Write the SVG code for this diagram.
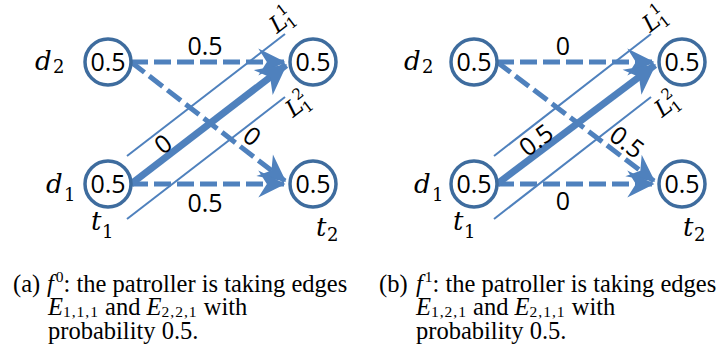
<svg xmlns="http://www.w3.org/2000/svg" width="722" height="358" viewBox="0 0 722 358">
<style>
.node{fill:#fff;stroke:#3E6C9E;stroke-width:3.5}
.nt{font-family:"Open Sans",sans-serif;font-size:25px;fill:#000;text-anchor:middle}
.el{font-family:"Open Sans",sans-serif;font-size:25px;fill:#000;text-anchor:middle}
.dash{stroke:#4F81BD;stroke-width:5;stroke-dasharray:17 6;fill:none}
.thick{stroke:#4F81BD;stroke-width:7;fill:none}
.thin{stroke:#4F81BD;stroke-width:2;fill:none}
.mi{font-family:"DejaVu Serif",serif;font-style:italic;font-size:26px;fill:#000}
.ms{font-family:"DejaVu Serif",serif;font-size:18px;fill:#000}
.li{font-family:"DejaVu Serif",serif;font-style:italic;font-size:23px;fill:#000}
.ls{font-family:"DejaVu Serif",serif;font-size:15px;fill:#000}
.cap{font-family:"Liberation Serif","Times New Roman",serif;font-size:24.5px;fill:#000}
.capi{font-style:italic}
.cs{font-size:15.5px}
</style>
<defs>
<marker id="ah" markerUnits="userSpaceOnUse" markerWidth="40" markerHeight="40" viewBox="-24 -14 28 28" refX="0" refY="0" orient="auto" overflow="visible">
<path d="M1,0 L-18,-9.5 L-12,0 L-18,9.5 Z" fill="#4F81BD"/>
</marker>
<marker id="ahb" markerUnits="userSpaceOnUse" markerWidth="40" markerHeight="40" viewBox="-28 -16 32 32" refX="0" refY="0" orient="auto" overflow="visible">
<path d="M1,0 L-23,-12.5 L-16,0 L-23,12.5 Z" fill="#4F81BD"/>
</marker>
</defs>

<!-- Panel (a) -->
<g id="connectors-a">
<line class="thin" x1="127" y1="156" x2="285" y2="34"/>
<line class="thin" x1="127" y1="219" x2="285" y2="97"/>
<line class="dash" x1="131" y1="62" x2="284" y2="62" marker-end="url(#ah)"/>
<line class="dash" x1="131" y1="62" x2="285" y2="181" marker-end="url(#ah)"/>
<line class="dash" x1="131" y1="184" x2="284" y2="184" marker-end="url(#ah)"/>
<line class="thick" x1="131" y1="184" x2="286" y2="65" marker-end="url(#ahb)"/>
<text class="el" x="205" y="55">0.5</text>
<text class="el" x="205" y="212">0.5</text>
<text class="el" transform="translate(163,144) rotate(-37)" y="9">0</text>
<text class="el" transform="translate(252,136) rotate(37)" y="9">0</text>
</g>
<g id="a-d2"><circle class="node" cx="108" cy="62" r="23"/><text class="nt" x="108" y="71">0.5</text></g>
<g id="a-t2top"><circle class="node" cx="313" cy="62" r="23"/><text class="nt" x="313" y="71">0.5</text></g>
<g id="a-d1"><circle class="node" cx="108" cy="184" r="23"/><text class="nt" x="108" y="193">0.5</text></g>
<g id="a-t2bot"><circle class="node" cx="313" cy="184" r="23"/><text class="nt" x="313" y="193">0.5</text></g>
<g id="a-labels">
<text class="mi" x="35" y="70">d</text><text class="ms" x="53" y="73">2</text>
<text class="mi" x="46" y="193">d</text><text class="ms" x="64" y="201">1</text>
<text class="mi" x="91" y="230">t</text><text class="ms" x="102" y="238">1</text>
<text class="mi" x="316" y="236">t</text><text class="ms" x="327" y="241">2</text>
<g transform="translate(277,34) rotate(-37.7)"><text class="li" x="0" y="0">L</text><text class="ls" x="14" y="-11">1</text><text class="ls" x="14" y="5">1</text></g>
<g transform="translate(293,118) rotate(-37.7)"><text class="li" x="0" y="0">L</text><text class="ls" x="14" y="-11">2</text><text class="ls" x="14" y="5">1</text></g>
</g>
<g id="caption-a" class="cap">
<text x="13" y="292">(a)</text>
<text x="47" y="292"><tspan class="capi">f</tspan><tspan class="cs" dx="2" dy="-10">0</tspan><tspan dy="10">: the patroller is taking edges</tspan></text>
<text x="48" y="315"><tspan class="capi">E</tspan><tspan class="cs" dy="2" letter-spacing="1">1,1,1</tspan><tspan dy="-2"> and </tspan><tspan class="capi">E</tspan><tspan class="cs" dy="2" letter-spacing="1">2,2,1</tspan><tspan dy="-2"> with</tspan></text>
<text x="48" y="339">probability 0.5.</text>
</g>

<!-- Panel (b) -->
<g id="connectors-b">
<line class="thin" x1="494" y1="156" x2="651" y2="34"/>
<line class="thin" x1="494" y1="219" x2="651" y2="97"/>
<line class="dash" x1="497" y1="62" x2="653" y2="62" marker-end="url(#ah)"/>
<line class="dash" x1="497" y1="62" x2="654" y2="181" marker-end="url(#ah)"/>
<line class="dash" x1="497" y1="184" x2="653" y2="184" marker-end="url(#ah)"/>
<line class="thick" x1="497" y1="184" x2="655" y2="65" marker-end="url(#ahb)"/>
<text class="el" x="563" y="55">0</text>
<text class="el" x="563" y="210">0</text>
<text class="el" transform="translate(536,140) rotate(-37)" y="9">0.5</text>
<text class="el" transform="translate(627,142) rotate(37)" y="9">0.5</text>
</g>
<g id="b-d2"><circle class="node" cx="474" cy="62" r="23"/><text class="nt" x="474" y="71">0.5</text></g>
<g id="b-t2top"><circle class="node" cx="682" cy="62" r="23"/><text class="nt" x="682" y="71">0.5</text></g>
<g id="b-d1"><circle class="node" cx="474" cy="184" r="23"/><text class="nt" x="474" y="193">0.5</text></g>
<g id="b-t2bot"><circle class="node" cx="682" cy="184" r="23"/><text class="nt" x="682" y="193">0.5</text></g>
<g id="b-labels">
<text class="mi" x="404" y="70">d</text><text class="ms" x="422" y="73">2</text>
<text class="mi" x="414" y="193">d</text><text class="ms" x="432" y="201">1</text>
<text class="mi" x="453" y="230">t</text><text class="ms" x="464" y="238">1</text>
<text class="mi" x="683" y="236">t</text><text class="ms" x="694" y="241">2</text>
<g transform="translate(650,33) rotate(-37.7)"><text class="li" x="0" y="0">L</text><text class="ls" x="14" y="-11">1</text><text class="ls" x="14" y="5">1</text></g>
<g transform="translate(662,118) rotate(-37.7)"><text class="li" x="0" y="0">L</text><text class="ls" x="14" y="-11">2</text><text class="ls" x="14" y="5">1</text></g>
</g>
<g id="caption-b" class="cap">
<text x="379" y="292">(b)</text>
<text x="416" y="292"><tspan class="capi">f</tspan><tspan class="cs" dx="2" dy="-10">1</tspan><tspan dy="10">: the patroller is taking edges</tspan></text>
<text x="416" y="315"><tspan class="capi">E</tspan><tspan class="cs" dy="2" letter-spacing="1">1,2,1</tspan><tspan dy="-2"> and </tspan><tspan class="capi">E</tspan><tspan class="cs" dy="2" letter-spacing="1">2,1,1</tspan><tspan dy="-2"> with</tspan></text>
<text x="416" y="339">probability 0.5.</text>
</g>
</svg>
